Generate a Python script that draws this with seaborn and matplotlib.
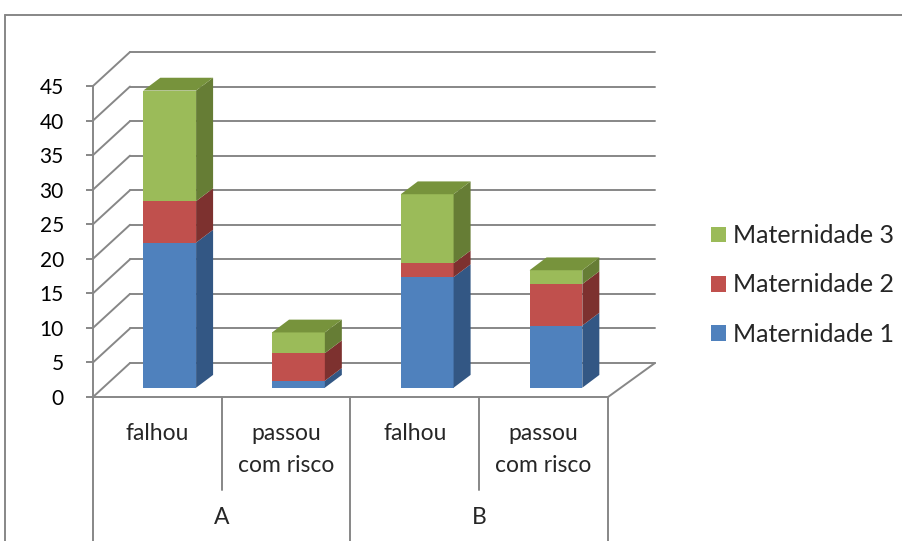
import seaborn as sns
import matplotlib.pyplot as plt
import numpy as np
from matplotlib.patches import Polygon, Patch
from matplotlib.lines import Line2D
from matplotlib.transforms import ScaledTranslation

# Datos
grupos = ["A", "B"]
resultados = ["falhou", "passou\ncom risco", "falhou", "passou\ncom risco"]
maternidade_1 = [21, 1, 16, 9]
maternidade_2 = [6, 4, 2, 6]
maternidade_3 = [16, 3, 10, 2]
series = ["Maternidade 1", "Maternidade 2", "Maternidade 3"]
y_ticks = list(range(0, 50, 5))

# Colores (cara frontal, lateral, superior)
frente = ["#4F81BD", "#C0504D", "#9BBB59"]
lado = ["#335784", "#7D312F", "#667D35"]
arriba = ["#4470A6", "#A34340", "#77933C"]
gris = "#878787"

sns.set_theme(style="white")
plt.rcParams["font.family"] = ["Lato", "DejaVu Sans"]

W, H = 903, 541
fig = plt.figure(figsize=(W / 100, H / 100), dpi=100)
ax = fig.add_axes([93 / W, (H - 397) / H, 515 / W, 311 / H])
ax.set_xlim(-0.5, 3.5)
ax.set_ylim(0, 45)

valores = np.array([maternidade_1, maternidade_2, maternidade_3])
acum = np.cumsum(valores, axis=0)
pos = np.arange(len(resultados))
ancho = 0.41

# Caras frontales con seaborn (barras acumuladas superpuestas)
front_off = ScaledTranslation(12.3 / 100, 9.3 / 100, fig.dpi_scale_trans)
for k in [2, 1, 0]:
    n0 = len(ax.patches)
    sns.barplot(x=pos, y=acum[k], color=frente[k], saturation=1, width=ancho,
                ax=ax, zorder=3)
    for p in ax.patches[n0:]:
        p.set_transform(ax.transData + front_off)
        p.set_linewidth(0)
ax.set_xlim(-0.5, 3.5)
ax.set_ylim(0, 45)


def punto(x, y, dx, dy):
    # proyeccion oblicua: desplaza un punto en pixeles y vuelve a datos
    px = ax.transData.transform((x, y)) + np.array([dx, dy])
    return ax.transData.inverted().transform(px)


def pared(x, y, d):
    dx = 37 + 10 * (x + 0.5) / 4
    return punto(x, y, d * dx, d * 34)


# Pared del fondo y pared izquierda
for v in y_ticks:
    a, b = pared(-0.5, v, 1), pared(3.5, v, 1)
    ax.add_line(Line2D([a[0], b[0]], [a[1], b[1]], color=gris, lw=1.4, zorder=1, clip_on=False))
    c = pared(-0.5, v, 0)
    ax.add_line(Line2D([c[0], a[0]], [c[1], a[1]], color=gris, lw=1.4, zorder=1, clip_on=False))
c, a = pared(3.5, 0, 0), pared(3.5, 0, 1)
ax.add_line(Line2D([c[0], a[0]], [c[1], a[1]], color=gris, lw=1.4, zorder=1, clip_on=False))

# Caras laterales y superiores de las barras
bx, by = 42.5, 32.0
d0, d1 = 0.29, 0.69
for i in pos:
    xr = i + ancho / 2
    xl = i - ancho / 2
    for k in range(3):
        y0 = acum[k - 1][i] if k > 0 else 0
        y1 = acum[k][i]
        if y1 == y0:
            continue
        pts = [punto(xr, y0, bx * d0, by * d0), punto(xr, y0, bx * d1, by * d1),
               punto(xr, y1, bx * d1, by * d1), punto(xr, y1, bx * d0, by * d0)]
        ax.add_patch(Polygon(pts, closed=True, fc=lado[k], ec="none", zorder=3, clip_on=False))
    yt = acum[2][i]
    pts = [punto(xl, yt, bx * d0, by * d0), punto(xr, yt, bx * d0, by * d0),
           punto(xr, yt, bx * d1, by * d1), punto(xl, yt, bx * d1, by * d1)]
    ax.add_patch(Polygon(pts, closed=True, fc=arriba[2], ec="none", zorder=3, clip_on=False))

# Ejes
for s in ["top", "right"]:
    ax.spines[s].set_visible(False)
for s in ["left", "bottom"]:
    ax.spines[s].set_color(gris)
    ax.spines[s].set_linewidth(1.4)
ax.set_yticks(y_ticks)
ax.set_yticklabels([str(v) for v in y_ticks], fontsize=15, color="black")
ax.tick_params(axis="y", left=True, length=5, width=1.4, color=gris, pad=16)
ax.set_xticks([])
ax.set_xlabel("")
ax.set_ylabel("")

# Etiquetas de categorias (dos niveles)
ppu = 311 / 45
y_px = lambda p: -(p - 397) / ppu
for x in [-0.5, 1.5, 3.5]:
    ax.add_line(Line2D([x, x], [0, y_px(560)], color=gris, lw=1.4, clip_on=False))
for x in [0.5, 2.5]:
    ax.add_line(Line2D([x, x], [0, y_px(490)], color=gris, lw=1.4, clip_on=False))
for i, r in enumerate(resultados):
    for j, linea in enumerate(r.split("\n")):
        ax.text(i, y_px(433 + 32 * j), linea, ha="center", va="center",
                fontsize=16.5, clip_on=False)
for g, xg in zip(grupos, [0.5, 2.5]):
    ax.text(xg, y_px(518), g, ha="center", va="center", fontsize=16.5, clip_on=False)

# Leyenda
handles = [Patch(facecolor=frente[k], edgecolor="none", label=series[k]) for k in [2, 1, 0]]
fig.legend(handles=handles, loc="center left", bbox_to_anchor=(711 / W, 1 - 285 / H),
           frameon=False, fontsize=18, handlelength=0.6, handleheight=0.6,
           handletextpad=0.28, labelspacing=1.05, borderpad=0, borderaxespad=0)

# Borde del grafico
fig.add_artist(Line2D([5 / W, 1], [1 - 15 / H, 1 - 15 / H], transform=fig.transFigure,
                      color=gris, lw=1.4))
fig.add_artist(Line2D([5 / W, 5 / W], [0, 1 - 15 / H], transform=fig.transFigure,
                      color=gris, lw=1.4))

fig.savefig("out.png", dpi=100)
